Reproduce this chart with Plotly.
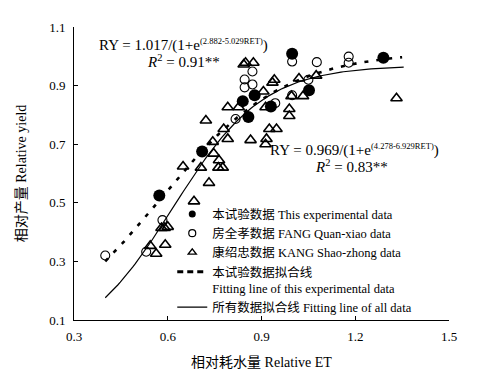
import numpy as np
import plotly.graph_objects as go

# This experimental data (filled circles)
exp_x = [0.573, 0.710, 0.840, 0.858, 0.878, 0.930, 0.998, 1.052, 1.290]
exp_y = [0.525, 0.675, 0.847, 0.793, 0.867, 0.829, 1.009, 0.884, 0.995]

# FANG Quan-xiao data (open circles)
fang_x = [0.400, 0.531, 0.583, 0.817, 0.846, 0.846, 0.871, 0.871, 0.998, 1.077, 0.998, 0.944, 1.050, 1.179, 1.179]
fang_y = [0.320, 0.333, 0.441, 0.786, 0.921, 0.894, 0.904, 0.948, 0.982, 0.980, 0.867, 0.840, 0.920, 0.999, 0.978]

# KANG Shao-zhong data (open triangles)
kang_x = [0.544, 0.563, 0.580, 0.590, 0.600, 0.592, 0.684, 0.732, 0.649, 0.706, 0.762, 0.776,
          0.764, 0.747, 0.744, 0.792, 0.779, 0.722, 0.792, 0.827, 0.843, 0.849, 0.874, 0.865,
          0.906, 0.941, 0.935, 0.996, 1.033, 1.020, 1.075, 0.989, 0.989, 0.913, 1.332, 0.925,
          0.948, 0.916, 0.913]
kang_y = [0.353, 0.326, 0.414, 0.414, 0.418, 0.357, 0.505, 0.568, 0.624, 0.620, 0.620, 0.620,
          0.645, 0.668, 0.708, 0.718, 0.752, 0.781, 0.826, 0.826, 0.972, 0.978, 0.978, 0.714,
          0.880, 0.920, 0.910, 0.864, 0.864, 0.924, 0.934, 0.820, 0.796, 0.826, 0.857, 0.752,
          0.752, 0.718, 0.700]

# Fitted logistic curves: RY = a/(1+exp(b - c*RET)), coefficients as printed in the chart
fit_exp = dict(a=1.017, b=2.882, c=5.029, x0=0.40, x1=1.35)
fit_all = dict(a=0.969, b=4.278, c=6.929, x0=0.40, x1=1.355)

x_ticks = [0.3, 0.6, 0.9, 1.2, 1.5]
y_ticks = [0.1, 0.3, 0.5, 0.7, 0.9, 1.1]

FONT = "Liberation Serif, Noto Sans CJK SC, serif"


def curve(p):
    xs = np.linspace(p["x0"], p["x1"], 120)
    return xs, p["a"] / (1 + np.exp(p["b"] - p["c"] * xs))


fig = go.Figure()

cx, cy = curve(fit_exp)
fig.add_trace(go.Scatter(x=cx, y=cy, mode="lines", showlegend=False,
                         line=dict(color="black", width=2.6, dash="4px,8px")))
ax, ay = curve(fit_all)
fig.add_trace(go.Scatter(x=ax, y=ay, mode="lines", showlegend=False,
                         line=dict(color="black", width=1.2)))

fig.add_trace(go.Scatter(x=fang_x, y=fang_y, mode="markers", showlegend=False,
                         marker=dict(symbol="circle-open", size=9, color="black",
                                     line=dict(width=1.1, color="black"))))
fig.add_trace(go.Scatter(x=kang_x, y=kang_y, mode="markers", showlegend=False,
                         marker=dict(symbol="triangle-up-open", size=10, color="black",
                                     line=dict(width=1.6, color="black"))))
fig.add_trace(go.Scatter(x=exp_x, y=exp_y, mode="markers", showlegend=False,
                         marker=dict(symbol="circle", size=12, color="black")))

# legend entries (legend-only traces with smaller symbols)
fig.add_trace(go.Scatter(x=[None], y=[None], mode="markers", name="本试验数据 This experimental data",
                         marker=dict(symbol="circle", size=7, color="black")))
fig.add_trace(go.Scatter(x=[None], y=[None], mode="markers", name="房全孝数据 FANG Quan-xiao data",
                         marker=dict(symbol="circle-open", size=7, color="black", line=dict(width=1.2))))
fig.add_trace(go.Scatter(x=[None], y=[None], mode="markers", name="康绍忠数据 KANG Shao-zhong data",
                         marker=dict(symbol="triangle-up-open", size=7, color="black", line=dict(width=1.4))))
fig.add_trace(go.Scatter(x=[None], y=[None], mode="lines",
                         name="本试验数据拟合线<br>Fitting line of this experimental data",
                         line=dict(color="black", width=3, dash="6px,4px")))
fig.add_trace(go.Scatter(x=[None], y=[None], mode="lines", name="所有数据拟合线 Fitting line of all data",
                         line=dict(color="black", width=1.2)))

afont = dict(family=FONT, size=15, color="black")
SUP = '<sup><span style="font-size:8.5px">{}</span></sup>'
fig.add_annotation(x=0.374, y=1.038, xref="x", yref="y", showarrow=False, xanchor="left",
                   text="RY = 1.017/(1+e" + SUP.format("(2.882-5.029RET)") + ")", font=afont)
fig.add_annotation(x=0.65, y=0.985, xref="x", yref="y", showarrow=False, xanchor="center",
                   text="<i>R</i><sup>2</sup> = 0.91**", font=afont)
fig.add_annotation(x=0.92, y=0.679, xref="x", yref="y", showarrow=False, xanchor="left",
                   text="RY = 0.969/(1+e" + SUP.format("(4.278-6.929RET)") + ")", font=afont)
fig.add_annotation(x=1.189, y=0.627, xref="x", yref="y", showarrow=False, xanchor="center",
                   text="<i>R</i><sup>2</sup> = 0.83**", font=afont)

tfont = dict(family=FONT, size=13, color="black")
# page body has an 8px default margin: figure is sized/placed to land the plot at the reference position
fig.update_layout(
    width=483, height=371,
    margin=dict(l=63, r=42, t=19, b=56),
    paper_bgcolor="white", plot_bgcolor="white",
    font=dict(family=FONT, size=13, color="black"),
    showlegend=True,
    legend=dict(x=0.262, y=0.412, xanchor="left", yanchor="top", bgcolor="rgba(0,0,0,0)",
                font=dict(family=FONT, size=12.5, color="black"), tracegroupgap=0,
                valign="top"),
    xaxis=dict(range=[0.3, 1.5], tickvals=x_ticks, ticktext=[f"{v:.1f}" for v in x_ticks],
               showgrid=False, zeroline=False, showline=True, linecolor="black", linewidth=1,
               ticks="inside", ticklen=4, tickcolor="black", mirror=False,
               ticklabelstandoff=4, tickfont=tfont,
               title=dict(text="相对耗水量 Relative ET", standoff=14,
                          font=dict(family=FONT, size=14, color="black"))),
    yaxis=dict(range=[0.1, 1.1], tickvals=y_ticks, ticktext=[f"{v:.1f}" for v in y_ticks],
               showgrid=False, zeroline=False, showline=True, linecolor="black", linewidth=1,
               ticks="inside", ticklen=4, tickcolor="black", mirror=False,
               ticklabelstandoff=5, tickfont=tfont,
               title=dict(text="相对产量 Relative yield", standoff=19,
                          font=dict(family=FONT, size=14, color="black"))),
)

fig.write_html("out.html")
